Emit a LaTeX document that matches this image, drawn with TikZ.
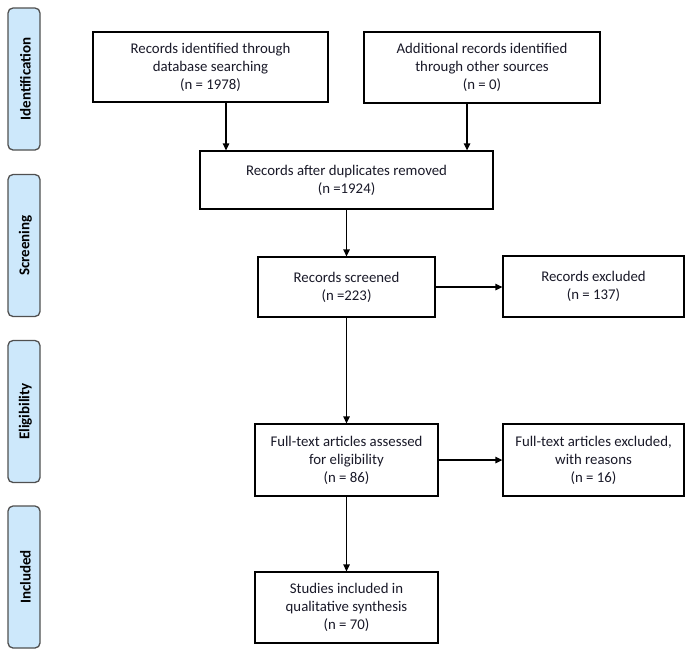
\documentclass[tikz,border=0pt]{standalone}
\usepackage{fontspec}
\setmainfont{Carlito}
\usetikzlibrary{arrows.meta}
\definecolor{sidefill}{RGB}{205,232,251}
\definecolor{sideline}{RGB}{80,80,80}
\definecolor{txt}{RGB}{25,25,40}
\tikzset{
  flowbox/.style={draw=black, line width=1.3pt, fill=white, align=center, inner sep=0pt,
    text=txt, font=\fontsize{14.8}{18}\selectfont},
  sidebox/.style={draw=sideline, line width=1.3pt, fill=sidefill, rounded corners=5pt,
    minimum width=32pt, minimum height=142pt, inner sep=0pt},
  sidetext/.style={rotate=90, font=\fontsize{15}{17}\selectfont\bfseries, text=black},
  arr/.style={line width=1.3pt, -{Triangle[length=7pt,width=6.5pt]}},
}
\begin{document}
\begin{tikzpicture}[x=1pt,y=-1pt]
\useasboundingbox (0,0) rectangle (692,654);
% phase labels
\node[sidebox] (s1) at (24,79) {};
\node[sidetext] (t1) at ([xshift=1.5pt]s1.center) {Identification};
\node[sidebox] (s2) at (24,245.5) {};
\node[sidetext] (t2) at ([xshift=1.5pt]s2.center) {Screening};
\node[sidebox] (s3) at (24,411.5) {};
\node[sidetext] (t3) at ([xshift=1.5pt]s3.center) {Eligibility};
\node[sidebox] (s4) at (24,577) {};
\node[sidetext] (t4) at ([xshift=1.5pt]s4.center) {Included};
% boxes
\node[flowbox, minimum width=235pt, minimum height=70pt] (A) at (210.5,67) {Records identified through\\database searching\\(n = 1978)};
\node[flowbox, minimum width=236pt, minimum height=71pt] (B) at (482,67.5) {Additional records identified\\through other sources\\(n = 0)};
\node[flowbox, minimum width=293pt, minimum height=58pt] (C) at (346.5,180) {Records after duplicates removed\\(n =1924)};
\node[flowbox, minimum width=177pt, minimum height=60pt] (D) at (346.5,287) {Records screened\\(n =223)};
\node[flowbox, minimum width=181pt, minimum height=61pt] (E) at (593.5,286.5) {Records excluded\\(n = 137)};
\node[flowbox, minimum width=183pt, minimum height=72pt] (F) at (346.5,460) {Full-text articles assessed\\for eligibility\\(n = 86)};
\node[flowbox, minimum width=181pt, minimum height=72pt] (G) at (593.5,460) {Full-text articles excluded,\\with reasons\\(n = 16)};
\node[flowbox, minimum width=183pt, minimum height=71pt] (H) at (346.5,607.5) {Studies included in\\qualitative synthesis\\(n = 70)};
% connectors
\coordinate (ax) at (226,0);
\coordinate (bx) at (467,0);
\draw[arr] (A.south -| ax) -- (C.north -| ax);
\draw[arr] (B.south -| bx) -- (C.north -| bx);
\draw[arr] (C.south) -- (D.north);
\draw[arr] (D.east) -- (D.east -| E.west);
\draw[arr] (D.south) -- (F.north);
\draw[arr] (F.east) -- (G.west);
\draw[arr] (F.south) -- (H.north);
\end{tikzpicture}
\end{document}
